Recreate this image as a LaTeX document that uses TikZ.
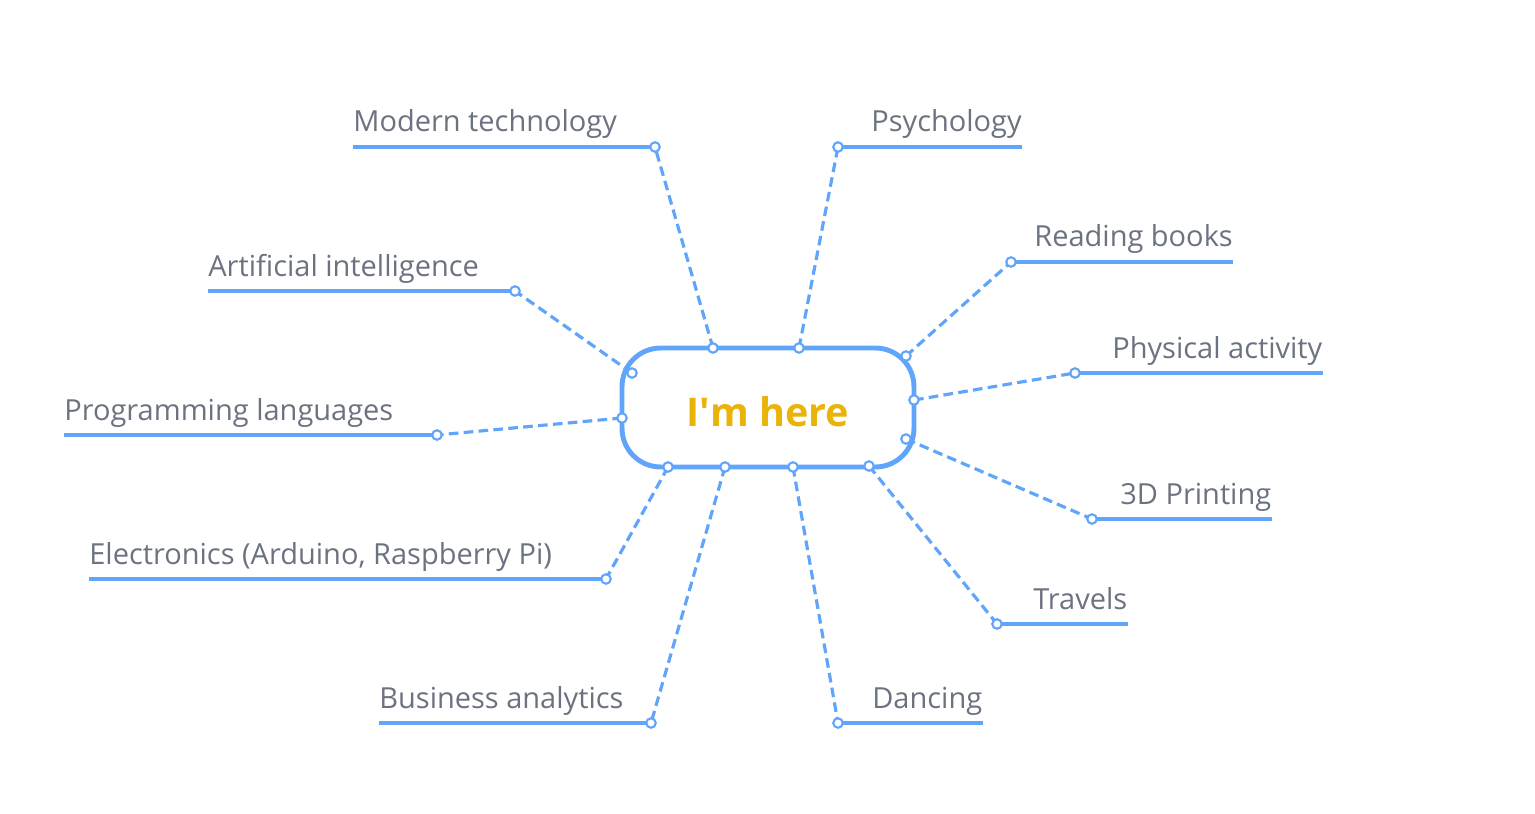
\documentclass[tikz,border=0pt]{standalone}
\usepackage{fontspec}
\setmainfont{Open Sans}
\usetikzlibrary{positioning}
\definecolor{linkblue}{RGB}{96,165,250}
\definecolor{topicgray}{RGB}{107,114,128}
\definecolor{hubgold}{RGB}{234,179,8}

\begin{document}
\begin{tikzpicture}[
  x=0.02cm, y=-0.02cm,
  hub/.style={draw=linkblue, line width=2.8pt, rounded corners=22pt, minimum width=5.84cm, minimum height=2.38cm, text height=22pt, fill=white, text=hubgold, font=\fontsize{22.5}{26}\selectfont\bfseries},
  topic/.style={inner sep=0pt, text=topicgray, font=\fontsize{16.5}{20}\selectfont},
  port/.style={circle, draw=linkblue, fill=white, line width=1.2pt, inner sep=0pt, minimum size=5.4pt},
  under/.style={draw=linkblue, line width=1.8pt},
  link/.style={draw=linkblue, line width=1.8pt, dash pattern=on 5.5pt off 3pt}
]
\useasboundingbox (0,0) rectangle (1535,814);

% centre
\node[hub] (me) at (768,407.5) {I\textquotesingle m here};

% topics, left side
\node[topic, anchor=base west] (modern) at (353,132) {Modern technology};
\node[topic, anchor=base west] (ai) at (208,276) {Artificial intelligence};
\node[topic, anchor=base west] (program) at (64,420) {Programming languages};
\node[topic, anchor=base west] (electro) at (89,564) {Electronics (Arduino, Raspberry Pi)};
\node[topic, anchor=base west] (business) at (379,708) {Business analytics};

% topics, right side
\node[topic, anchor=base west] (psych) at (871,132) {Psychology};
\node[topic, anchor=base west] (reading) at (1034,247) {Reading books};
\node[topic, anchor=base west] (physical) at (1112,358) {Physical activity};
\node[topic, anchor=base west] (printing) at (1120,504) {3D Printing};
\node[topic, anchor=base west] (travels) at (1033,609) {Travels};
\node[topic, anchor=base west] (dancing) at (872,708) {Dancing};

% ends of the underlines
\coordinate (modernEnd) at (655,147);
\coordinate (aiEnd) at (515,291);
\coordinate (programEnd) at (437,435);
\coordinate (electroEnd) at (606,579);
\coordinate (businessEnd) at (651,723);
\coordinate (psychEnd) at (838,147);
\coordinate (readingEnd) at (1011,262);
\coordinate (physicalEnd) at (1075,373);
\coordinate (printingEnd) at (1092,519);
\coordinate (travelsEnd) at (997,624);
\coordinate (dancingEnd) at (838,723);

% points on the centre box
\coordinate (modernIn) at (713,348);
\coordinate (aiIn) at (632,373);
\coordinate (programIn) at (622,418);
\coordinate (electroIn) at (668,467);
\coordinate (businessIn) at (725,467);
\coordinate (psychIn) at (799,348);
\coordinate (readingIn) at (906,356);
\coordinate (physicalIn) at (914,400);
\coordinate (printingIn) at (906,439);
\coordinate (travelsIn) at (869,466);
\coordinate (dancingIn) at (793,467);

\draw[under] (modern.west |- modernEnd) -- (modernEnd);
\draw[under] (ai.west |- aiEnd) -- (aiEnd);
\draw[under] (program.west |- programEnd) -- (programEnd);
\draw[under] (electro.west |- electroEnd) -- (electroEnd);
\draw[under] (business.west |- businessEnd) -- (businessEnd);
\draw[under] (psychEnd) -- (psych.east |- psychEnd);
\draw[under] (readingEnd) -- (reading.east |- readingEnd);
\draw[under] (physicalEnd) -- (physical.east |- physicalEnd);
\draw[under] (printingEnd) -- (printing.east |- printingEnd);
\draw[under] (travelsEnd) -- (travels.east |- travelsEnd);
\draw[under] (dancingEnd) -- (dancing.east |- dancingEnd);

\draw[link] (modernIn) -- (modernEnd);
\draw[link] (aiIn) -- (aiEnd);
\draw[link] (programIn) -- (programEnd);
\draw[link] (electroIn) -- (electroEnd);
\draw[link] (businessIn) -- (businessEnd);
\draw[link] (psychIn) -- (psychEnd);
\draw[link] (readingIn) -- (readingEnd);
\draw[link] (physicalIn) -- (physicalEnd);
\draw[link] (printingIn) -- (printingEnd);
\draw[link] (travelsIn) -- (travelsEnd);
\draw[link] (dancingIn) -- (dancingEnd);

% little rings on top
\node[port] (modernInDot) at (modernIn) {};
\node[port] (aiInDot) at (aiIn) {};
\node[port] (programInDot) at (programIn) {};
\node[port] (electroInDot) at (electroIn) {};
\node[port] (businessInDot) at (businessIn) {};
\node[port] (psychInDot) at (psychIn) {};
\node[port] (readingInDot) at (readingIn) {};
\node[port] (physicalInDot) at (physicalIn) {};
\node[port] (printingInDot) at (printingIn) {};
\node[port] (travelsInDot) at (travelsIn) {};
\node[port] (dancingInDot) at (dancingIn) {};
\node[port] (modernEndDot) at (modernEnd) {};
\node[port] (aiEndDot) at (aiEnd) {};
\node[port] (programEndDot) at (programEnd) {};
\node[port] (electroEndDot) at (electroEnd) {};
\node[port] (businessEndDot) at (businessEnd) {};
\node[port] (psychEndDot) at (psychEnd) {};
\node[port] (readingEndDot) at (readingEnd) {};
\node[port] (physicalEndDot) at (physicalEnd) {};
\node[port] (printingEndDot) at (printingEnd) {};
\node[port] (travelsEndDot) at (travelsEnd) {};
\node[port] (dancingEndDot) at (dancingEnd) {};

\end{tikzpicture}
\end{document}
